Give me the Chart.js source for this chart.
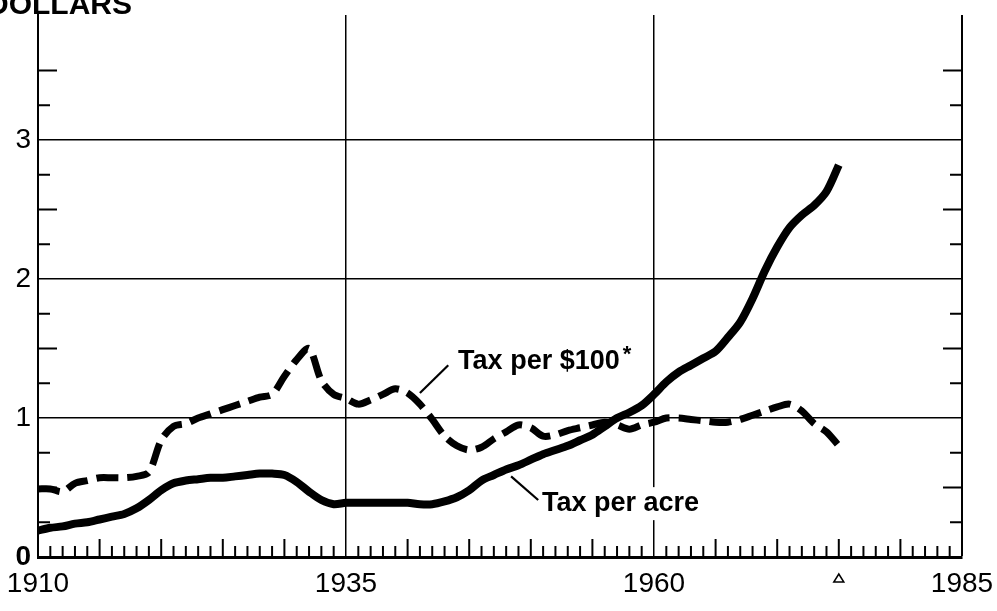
<!DOCTYPE html>
<html>
<head>
<meta charset="utf-8">
<script src="https://cdn.jsdelivr.net/npm/chart.js@4.4.1/dist/chart.umd.min.js"></script>
<style>
  html, body { margin: 0; padding: 0; background: #fff; }
  canvas { display: block; }
</style>
</head>
<body>
<canvas id="c" width="997" height="611" style="width:997px;height:611px"></canvas>
<script>
// ---- Data ----
const years = [1910,1911,1912,1913,1914,1915,1916,1917,1918,1919,
               1920,1921,1922,1923,1924,1925,1926,1927,1928,1929,
               1930,1931,1932,1933,1934,1935,1936,1937,1938,1939,
               1940,1941,1942,1943,1944,1945,1946,1947,1948,1949,
               1950,1951,1952,1953,1954,1955,1956,1957,1958,1959,
               1960,1961,1962,1963,1964,1965,1966,1967,1968,1969,
               1970,1971,1972,1973,1974,1975];

const taxPerAcre = [0.19,0.21,0.22,0.24,0.25,0.27,0.29,0.31,0.35,0.41,
                    0.48,0.53,0.55,0.56,0.57,0.57,0.58,0.59,0.60,0.60,
                    0.59,0.54,0.47,0.41,0.38,0.39,0.39,0.39,0.39,0.39,
                    0.39,0.38,0.38,0.40,0.43,0.48,0.55,0.59,0.63,0.66,
                    0.70,0.74,0.77,0.80,0.84,0.88,0.94,1.00,1.04,1.09,
                    1.17,1.26,1.33,1.38,1.43,1.48,1.58,1.69,1.86,2.06,
                    2.23,2.37,2.46,2.53,2.63,2.82];

const taxPer100 = [0.49,0.49,0.47,0.53,0.55,0.57,0.57,0.57,0.58,0.61,
                   0.84,0.94,0.96,1.00,1.03,1.06,1.09,1.12,1.15,1.17,
                   1.30,1.42,1.50,1.27,1.17,1.14,1.10,1.13,1.17,1.21,
                   1.18,1.10,0.99,0.87,0.80,0.77,0.79,0.85,0.90,0.95,
                   0.93,0.87,0.88,0.91,0.93,0.95,0.97,0.95,0.92,0.95,
                   0.97,1.00,1.00,0.99,0.98,0.97,0.97,0.99,1.02,1.05,
                   1.08,1.10,1.05,0.96,0.90,0.80];

const xTickLabels = [1910, 1935, 1960, 1985];
const xGridYears = [1935, 1960, 1985];
const yTickLabels = [0, 1, 2, 3];
const markerYear = 1975;
const yAxisTitle = 'DOLLARS';
const seriesNames = ['Tax per acre', 'Tax per $100'];

// ---- Styling helpers ----
const SANS = "'Liberation Sans', Arial, Helvetica, sans-serif";

const innerTicks = {
  id: 'innerTicks',
  beforeDatasetsDraw(chart) {
    const {ctx, chartArea: a, scales: {x, y}} = chart;
    ctx.save();
    ctx.strokeStyle = '#000';
    ctx.lineWidth = 2;
    ctx.lineCap = 'butt';
    y.ticks.forEach(t => {
      const v = t.value;
      if (v <= 0 || v > 3.8) return;
      if (Math.abs(v - Math.round(v)) < 1e-6) return;
      const half = Math.abs(v * 2 - Math.round(v * 2)) < 1e-6;
      const len = half ? 19 : 12;
      const py = y.getPixelForValue(v);
      ctx.beginPath();
      ctx.moveTo(a.left, py); ctx.lineTo(a.left + len, py);
      ctx.moveTo(a.right, py); ctx.lineTo(a.right - len, py);
      ctx.stroke();
    });
    x.ticks.forEach(t => {
      const v = t.value;
      if (v <= x.min || v >= x.max) return;
      if (xGridYears.includes(v)) return;
      const len = (v % 5 === 0) ? 18 : 11;
      const px = x.getPixelForValue(v);
      ctx.beginPath();
      ctx.moveTo(px, a.bottom); ctx.lineTo(px, a.bottom - len);
      ctx.stroke();
    });
    ctx.restore();
  },
  afterDraw(chart) {
    const {ctx, chartArea: a, scales: {x}} = chart;
    ctx.save();
    // preliminary marker triangle
    const tx = x.getPixelForValue(markerYear);
    const ty = a.bottom + 17;
    ctx.strokeStyle = '#000';
    ctx.lineWidth = 1.5;
    ctx.beginPath();
    ctx.moveTo(tx, ty);
    ctx.lineTo(tx + 5, ty + 8);
    ctx.lineTo(tx - 5, ty + 8);
    ctx.closePath();
    ctx.stroke();
    // axis title (partly cut at the left edge, as in the reference)
    ctx.fillStyle = '#000';
    ctx.font = "bold 30px " + SANS;
    ctx.textAlign = 'right';
    ctx.textBaseline = 'alphabetic';
    ctx.fillText(yAxisTitle, 132, 14);
    ctx.restore();
  }
};

const seriesLabels = {
  id: 'seriesLabels',
  afterDatasetsDraw(chart) {
    const {ctx, scales: {x, y}} = chart;
    ctx.save();
    ctx.fillStyle = '#000';
    ctx.strokeStyle = '#000';
    ctx.font = "bold 27px " + SANS;
    ctx.textAlign = 'left';
    ctx.textBaseline = 'alphabetic';

    function label(text, xv, yv, star) {
      const px = x.getPixelForValue(xv);
      const py = y.getPixelForValue(yv);
      const w = ctx.measureText(text).width;
      ctx.fillStyle = '#fff';
      ctx.fillRect(px - 4, py - 24, w + (star ? 20 : 8), 33);
      ctx.fillStyle = '#000';
      ctx.fillText(text, px, py);
      if (star) {
        ctx.save();
        ctx.font = "bold 22px " + SANS;
        ctx.fillText('*', px + w + 3, py - 8);
        ctx.restore();
      }
    }
    function leader(x1, y1, x2, y2) {
      ctx.lineWidth = 2.2;
      ctx.beginPath();
      ctx.moveTo(x.getPixelForValue(x1), y.getPixelForValue(y1));
      ctx.lineTo(x.getPixelForValue(x2), y.getPixelForValue(y2));
      ctx.stroke();
    }
    label(seriesNames[1], 1944.1, 1.35, true);
    leader(1941.0, 1.18, 1943.3, 1.38);
    label(seriesNames[0], 1950.9, 0.33, false);
    leader(1948.4, 0.58, 1950.6, 0.41);
    ctx.restore();
  }
};

new Chart(document.getElementById('c'), {
  type: 'line',
  data: {
    datasets: [
      {
        label: seriesNames[0],
        data: years.map((yr, i) => ({x: yr, y: taxPerAcre[i]})),
        borderColor: '#000',
        borderWidth: 8,
        pointRadius: 0,
        tension: 0.3,
        borderCapStyle: 'butt',
        borderJoinStyle: 'round',
        fill: false
      },
      {
        label: seriesNames[1],
        data: years.map((yr, i) => ({x: yr, y: taxPer100[i]})),
        borderColor: '#000',
        borderWidth: 7,
        borderDash: [22, 9],
        pointRadius: 0,
        tension: 0.3,
        borderCapStyle: 'butt',
        borderJoinStyle: 'round',
        fill: false
      }
    ]
  },
  options: {
    responsive: false,
    devicePixelRatio: 1,
    animation: false,
    events: [],
    layout: { padding: { left: 0, right: 35, top: 15, bottom: 0 } },
    plugins: {
      legend: { display: false },
      tooltip: { enabled: false },
      title: { display: false }
    },
    scales: {
      x: {
        type: 'linear',
        min: 1910,
        max: 1985,
        afterFit(s) { s.height = 54; s.paddingLeft = 0; s.paddingRight = 0; },
        border: { display: true, color: '#000', width: 3 },
        grid: {
          drawTicks: false,
          color: c => (c.tick && xGridYears.includes(c.tick.value)) ? '#000' : 'rgba(0,0,0,0)',
          lineWidth: c => (c.tick && c.tick.value === 1985) ? 2 : 1.5
        },
        ticks: {
          stepSize: 1,
          autoSkip: false,
          maxRotation: 0,
          padding: 10,
          color: '#000',
          font: { family: SANS, size: 28 },
          callback: v => xTickLabels.includes(v) ? String(v) : ''
        }
      },
      y: {
        type: 'linear',
        min: 0,
        max: 3.9,
        afterFit(s) { s.width = 38; s.paddingTop = 0; s.paddingBottom = 0; },
        border: { display: true, color: '#000', width: 2 },
        grid: {
          drawTicks: false,
          color: c => (c.tick && c.tick.value > 0 && c.tick.value < 3.8 && Number.isInteger(c.tick.value)) ? '#000' : 'rgba(0,0,0,0)',
          lineWidth: 1.5
        },
        ticks: {
          stepSize: 0.25,
          autoSkip: false,
          padding: 7,
          color: '#000',
          font: c => ({ family: SANS, size: 28, weight: (c.tick && c.tick.value === 0) ? 'bold' : 'normal' }),
          callback: v => yTickLabels.includes(v) ? String(v) : ''
        }
      }
    }
  },
  plugins: [innerTicks, seriesLabels]
});
</script>
</body>
</html>
